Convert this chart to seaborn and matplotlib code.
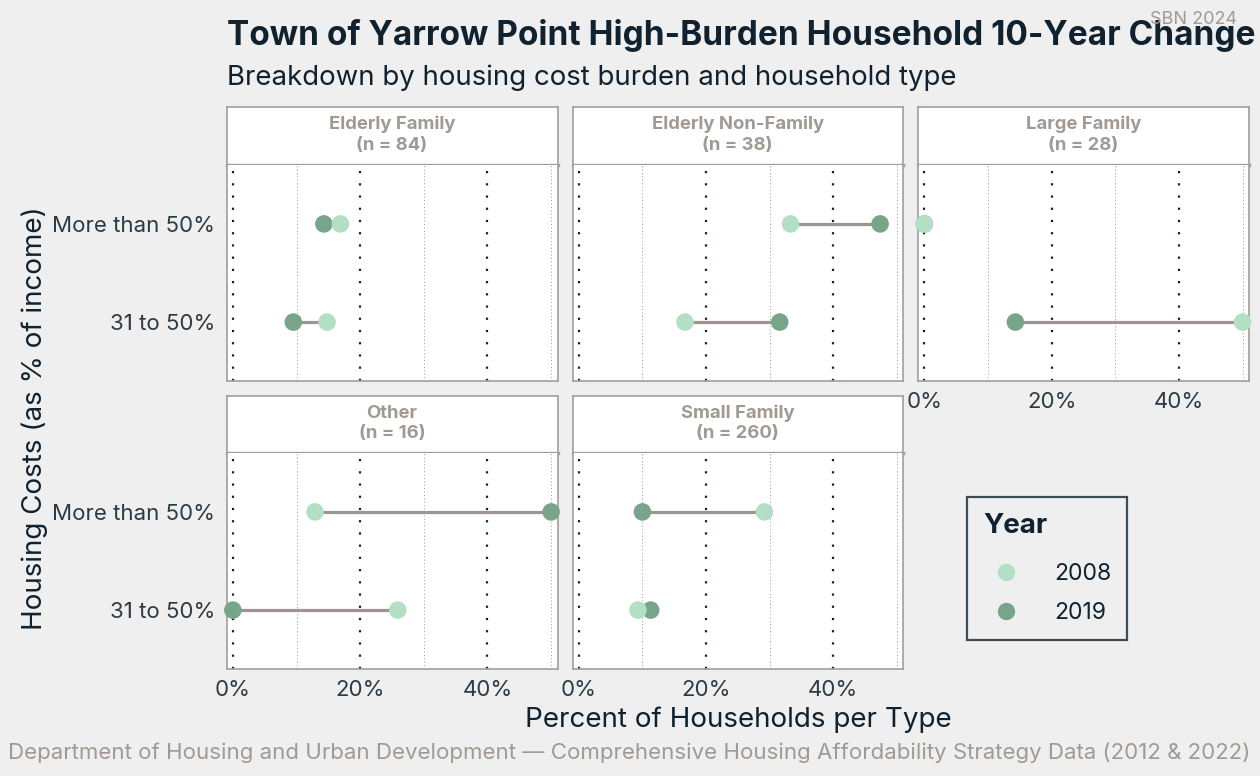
import numpy as np
import pandas as pd
import matplotlib
matplotlib.use("Agg")
import matplotlib.pyplot as plt
from matplotlib.lines import Line2D
import seaborn as sns

# ---- data -------------------------------------------------------------
household_types = ["Elderly Family", "Elderly Non-Family", "Large Family", "Other", "Small Family"]
household_n = [84, 38, 28, 16, 260]
burden_levels = ["31 to 50%", "More than 50%"]
years = ["2008", "2019"]

# percent of households, order: [31 to 50%, More than 50%] per type
pct_2008 = {
    "Elderly Family": [14.8, 16.9],
    "Elderly Non-Family": [16.7, 33.3],
    "Large Family": [50.0, 0.0],
    "Other": [25.9, 12.9],
    "Small Family": [9.3, 29.2],
}
pct_2019 = {
    "Elderly Family": [9.5, 14.3],
    "Elderly Non-Family": [31.6, 47.4],
    "Large Family": [14.3, 0.0],
    "Other": [0.0, 50.0],
    "Small Family": [11.3, 10.0],
}
x_ticks = [0, 20, 40]
x_tick_labels = ["0%", "20%", "40%"]

rows = []
for yr, table in (("2019", pct_2019), ("2008", pct_2008)):
    for ht in household_types:
        for lvl, v in zip(burden_levels, table[ht]):
            rows.append({"type": ht, "burden": lvl, "year": yr, "pct": v})
df = pd.DataFrame(rows)
df["ypos"] = df["burden"].map({b: i + 1 for i, b in enumerate(burden_levels)})

# ---- style ------------------------------------------------------------
sns.set_theme(style="white")
plt.rcParams["font.family"] = ["Inter", "DejaVu Sans"]

BG = "#efefef"
INK = "#10222f"
GREY_TXT = "#a19a94"
BORDER = "#a39e98"
SEG = "#9b948f"
palette = {"2008": "#b3dfc4", "2019": "#78a48a"}

W, H = 1260, 776
fig = plt.figure(figsize=(W / 100, H / 100), dpi=100, facecolor=BG)


def rect(x0, y0, x1, y1):
    return [x0 / W, 1 - y1 / H, (x1 - x0) / W, (y1 - y0) / H]


col_x = [(226.5, 557.5), (572.5, 903.0), (918.0, 1249.0)]
row_y = [((107, 165), (165, 381)), ((396, 453), (453, 669))]

positions = [(0, 0), (0, 1), (0, 2), (1, 0), (1, 1)]
bottom_in_col = {0: 1, 1: 1, 2: 0}

for (r, c), ht, n in zip(positions, household_types, household_n):
    (sy0, sy1), (py0, py1) = row_y[r]
    x0, x1 = col_x[c]

    # strip
    sax = fig.add_axes(rect(x0, sy0, x1, sy1))
    sax.set_facecolor("white")
    sax.set_xticks([]); sax.set_yticks([])
    for s in sax.spines.values():
        s.set_color(BORDER); s.set_linewidth(1.2)
    sax.spines["bottom"].set_linewidth(2.4)
    sax.text(0.5, 0.52, f"{ht}\n(n = {n})", transform=sax.transAxes,
             ha="center", va="center", fontsize=13.3, fontweight="bold",
             color=GREY_TXT, linespacing=1.25)

    # panel
    ax = fig.add_axes(rect(x0, py0, x1, py1))
    ax.set_facecolor("white")
    for s in ax.spines.values():
        s.set_color(BORDER); s.set_linewidth(1.2)
    ax.spines["top"].set_visible(False)

    for g in [10, 30, 50]:
        ax.axvline(g, color="#9a9a9a", lw=0.7, ls=(0, (1, 2.5)), zorder=0)
    for g in x_ticks:
        ax.axvline(g, color=INK, lw=1.6, ls=(0, (1, 4.5)), zorder=0)

    sub = df[df["type"] == ht]
    wide = sub.pivot(index="ypos", columns="year", values="pct")
    ax.hlines(wide.index, wide.min(axis=1), wide.max(axis=1),
              color=SEG, lw=2.3, zorder=2)
    sns.scatterplot(data=sub, x="pct", y="ypos", hue="year", palette=palette,
                    s=160, linewidth=0, legend=False, ax=ax, zorder=3,
                    clip_on=False)

    ax.set_xlim(-1, 51)
    ax.set_ylim(0.4, 2.6)
    ax.set_xlabel(""); ax.set_ylabel("")
    ax.set_xticks(x_ticks)
    ax.set_yticks([1, 2])
    ax.tick_params(axis="both", colors=INK, length=5, width=1.4,
                   labelsize=16, pad=3, labelcolor="#2b3a44")
    if bottom_in_col[c] == r:
        ax.set_xticklabels(x_tick_labels)
    else:
        ax.tick_params(axis="x", length=0, labelbottom=False)
    if c == 0:
        ax.set_yticklabels(burden_levels)
    else:
        ax.tick_params(axis="y", length=0, labelleft=False)

# ---- titles and labels --------------------------------------------------
fig.text(227 / W, 1 - 36 / H, "Town of Yarrow Point High-Burden Household 10-Year Change",
         ha="left", va="center", fontsize=24, fontweight="bold", color=INK)
fig.text(227 / W, 1 - 78 / H, "Breakdown by housing cost burden and household type",
         ha="left", va="center", fontsize=19.9, color=INK)
fig.text(1237 / W, 1 - 20 / H, "SBN 2024", ha="right", va="center",
         fontsize=13, color=GREY_TXT)
fig.text(738 / W, 1 - 720 / H, "Percent of Households per Type", ha="center",
         va="center", fontsize=20, color=INK)
fig.text(35 / W, 1 - 418 / H, "Housing Costs (as % of income)", ha="center",
         va="center", rotation=90, fontsize=20, color=INK)
fig.text(8 / W, 1 - 753 / H,
         "Department of Housing and Urban Development \u2014 Comprehensive Housing "
         "Affordability Strategy Data (2012 & 2022)",
         ha="left", va="center", fontsize=16, color=GREY_TXT)

# ---- legend -------------------------------------------------------------
handles = [Line2D([], [], marker="o", ls="", markersize=12.5, markeredgewidth=0,
                  markerfacecolor=palette[y]) for y in years]
leg = fig.legend(handles, years, title="Year", loc="upper left",
                 bbox_to_anchor=(967 / W, 1 - 497 / H), frameon=True,
                 fancybox=False, fontsize=16.5, title_fontsize=20,
                 handletextpad=1.1, labelspacing=0.75, borderpad=0.7,
                 borderaxespad=0, alignment="left")
# a little more room between the legend title and its entries
leg._legend_box.sep = 0.75 * 16.5 + 5
leg.get_frame().set_edgecolor(INK)
leg.get_frame().set_linewidth(1.6)
leg.get_frame().set_facecolor(BG)
leg.get_title().set_fontweight("bold")
leg.get_title().set_color(INK)
for t in leg.get_texts():
    t.set_color(INK)

fig.savefig("out.png", dpi=100, facecolor=BG)
